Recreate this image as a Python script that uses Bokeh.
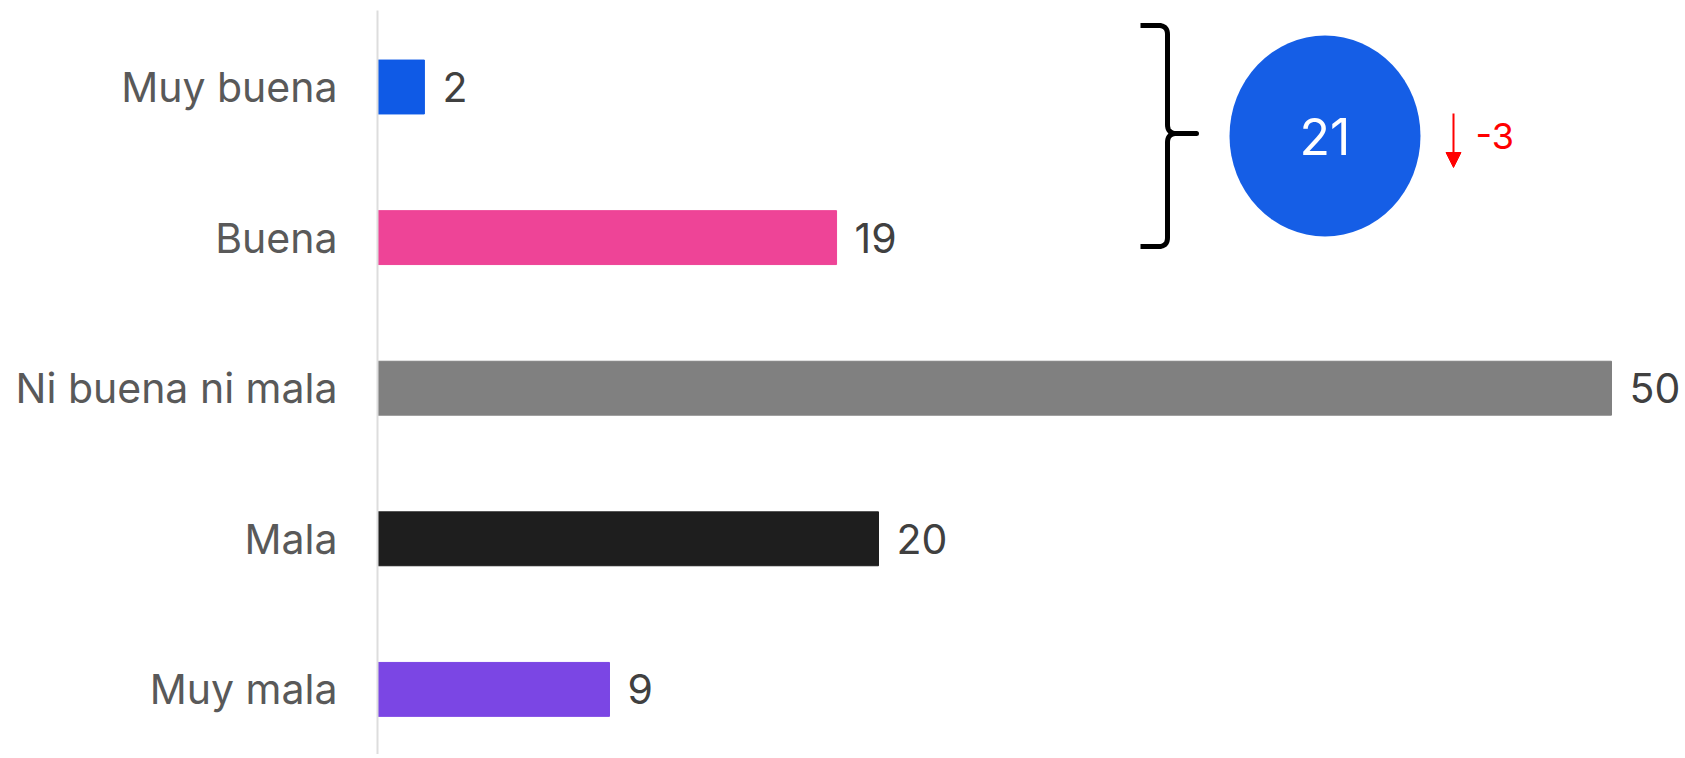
from bokeh.plotting import figure
from bokeh.models import Range1d, FixedTicker, Arrow, NormalHead, ColumnDataSource
from bokeh.core.properties import value
from bokeh.embed import file_html
from bokeh.resources import INLINE
import numpy as np

# ---------------- data ----------------
categories = ["Muy buena", "Buena", "Ni buena ni mala", "Mala", "Muy mala"]
values = [1.9, 18.6, 50.0, 20.3, 9.4]
value_labels = ["2", "19", "50", "20", "9"]
colors = ["#0f5ae6", "#ee4497", "#808080", "#1e1e1e", "#7b46e4"]
summary_value = "21"   # Muy buena + Buena
summary_change = "-3"

# ---------------- layout constants ----------------
FONT = "Inter"
BORDER_LEFT, BORDER_TOP = 377, 10
FRAME_W, FRAME_H = 1305, 744
FIG_W, FIG_H = BORDER_LEFT + FRAME_W, BORDER_TOP + FRAME_H
PX_PER_UNIT = 24.68
X_END = FRAME_W / PX_PER_UNIT
PX_PER_CAT = 150.6
Y_TOP = -0.508
Y_BOTTOM = Y_TOP + FRAME_H / PX_PER_CAT
PAGE_FRAME_LEFT = BORDER_LEFT
PAGE_FRAME_TOP = BORDER_TOP


def sx(px):
    return (px - PAGE_FRAME_LEFT) / PX_PER_UNIT


def sy(py):
    return Y_TOP + (py - PAGE_FRAME_TOP) / PX_PER_CAT


ypos = list(range(len(categories)))
src = ColumnDataSource(dict(y=ypos, v=values, lab=value_labels, color=colors))

p = figure(width=FIG_W, height=FIG_H,
           x_range=Range1d(0, X_END), y_range=Range1d(Y_BOTTOM, Y_TOP),
           output_backend="svg", toolbar_location=None,
           min_border_left=BORDER_LEFT, min_border_right=0,
           min_border_top=BORDER_TOP, min_border_bottom=0)
p.outline_line_color = None
p.xgrid.visible = False
p.ygrid.visible = False
p.xaxis.visible = False
p.background_fill_color = "white"

yax = p.yaxis[0]
yax.ticker = FixedTicker(ticks=ypos)
yax.major_label_overrides = {i: c for i, c in zip(ypos, categories)}
yax.major_tick_line_color = None
yax.minor_tick_line_color = None
yax.major_tick_out = 0
yax.major_tick_in = 0
yax.axis_line_color = "#dddddd"
yax.axis_line_width = 2
yax.major_label_standoff = 40
yax.major_label_text_font = FONT
yax.major_label_text_font_size = "41px"
yax.major_label_text_color = "#595959"

p.hbar(y="y", left=0, right="v", height=0.358, color="color", source=src)
p.text(x="v", y="y", text="lab", source=src, x_offset=18,
       text_baseline="middle", text_align="left",
       text_font=value(FONT), text_font_size="41px", text_color="#404040")

# ---------------- summary bubble ----------------
cx, cy = sx(1324.5), sy(135.5)
p.ellipse(x=[cx], y=[cy], width=191, height=201,
          width_units="screen", height_units="screen",
          fill_color="#155ee6", line_color=None)
p.text(x=[cx], y=[cy], text=[summary_value], text_align="center",
       text_baseline="middle", text_font=value(FONT),
       text_font_size="50px", text_color="white")

# brace
def quad(p0, c, p1, n=12):
    t = np.linspace(0, 1, n)
    x = (1 - t) ** 2 * p0[0] + 2 * (1 - t) * t * c[0] + t ** 2 * p1[0]
    y = (1 - t) ** 2 * p0[1] + 2 * (1 - t) * t * c[1] + t ** 2 * p1[1]
    return list(zip(x, y))

pts = [(1140, 25), (1158, 25)]
pts += quad((1158, 25), (1167, 25), (1167, 34))
pts += [(1167, 124)]
pts += quad((1167, 124), (1167, 133), (1176, 133))
pts += [(1196, 133), (1176, 133)]
pts += quad((1176, 133), (1167, 133), (1167, 142))
pts += [(1167, 237)]
pts += quad((1167, 237), (1167, 246), (1158, 246))
pts += [(1140, 246)]
p.line(x=[sx(a) for a, b in pts], y=[sy(b) for a, b in pts],
       line_color="black", line_width=5, line_join="round")

# change arrow
p.add_layout(Arrow(end=NormalHead(size=15, fill_color="red", line_color="red"),
                   x_start=sx(1453), y_start=sy(113), x_end=sx(1453), y_end=sy(167),
                   line_color="red", line_width=2))
p.text(x=[sx(1475)], y=[sy(135)], text=[summary_change], text_align="left",
       text_baseline="middle", text_font=value(FONT),
       text_font_size="36px", text_color="red")

open("out.html", "w").write(file_html(p, INLINE))
